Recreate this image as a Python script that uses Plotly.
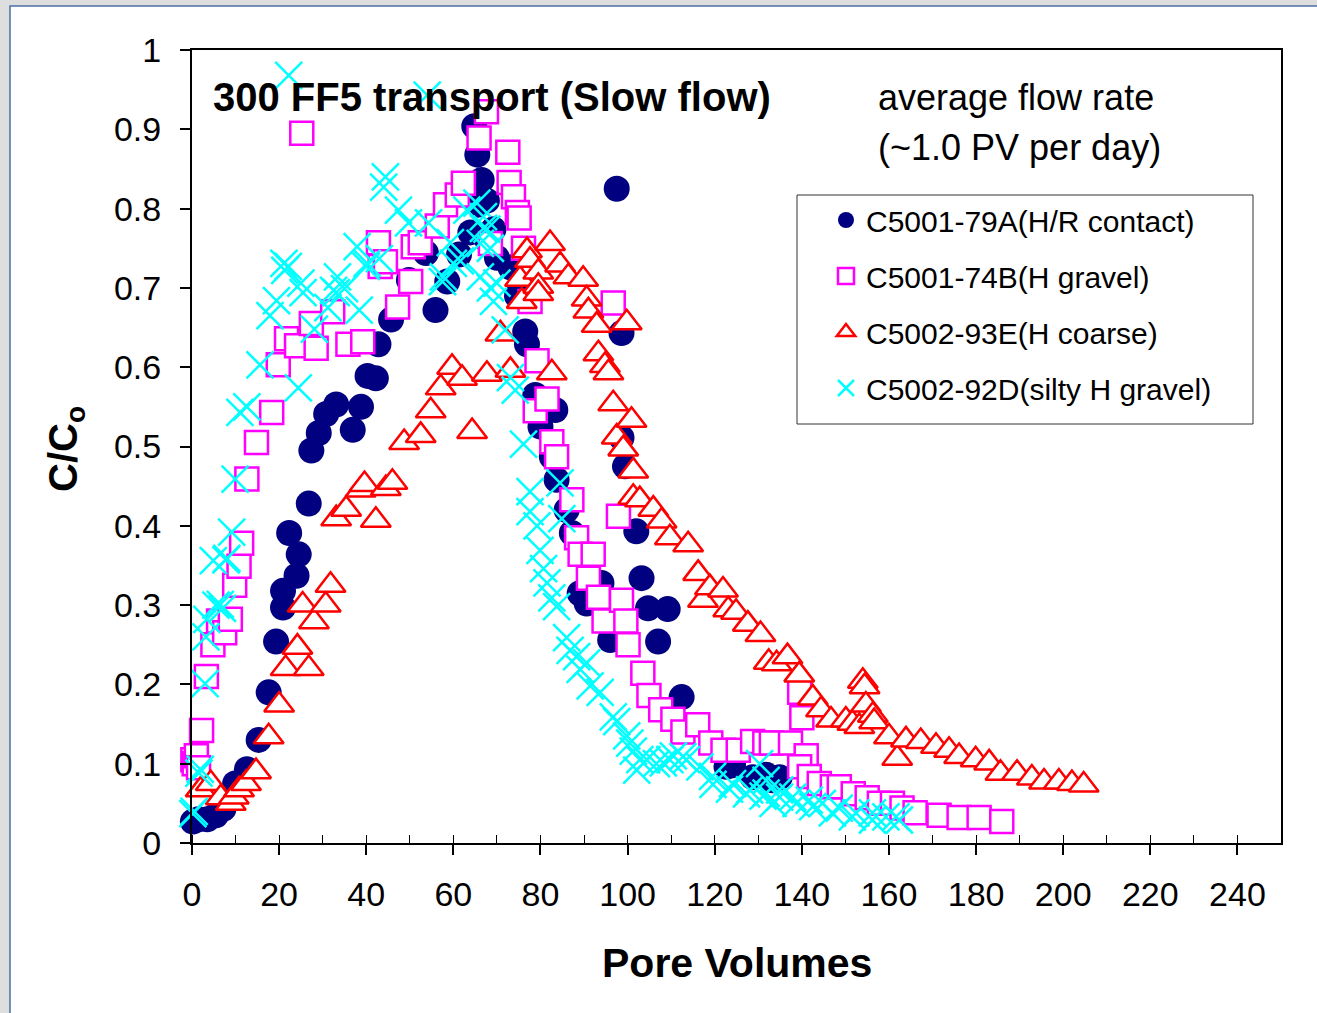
import plotly.graph_objects as go

# ---------------- data ----------------
names = ["C5001-79A(H/R contact)", "C5001-74B(H gravel)",
         "C5002-93E(H coarse)", "C5002-92D(silty H gravel)"]

a_x = [0.2, 1.5, 3.5, 5.5, 7.2, 8.5, 9.9, 12.6, 15.3, 17.6, 19.3, 20.9, 20.9, 22.3, 24.0, 24.5,
       26.8, 27.4, 29.1, 30.8, 33.1, 36.9, 38.8, 40.3, 42.2, 42.8, 45.7, 49.8, 53.7, 55.9, 58.6,
       61.3, 63.9, 64.8, 65.5, 65.7, 66.5, 67.7, 67.8, 69.2, 70.0, 73.1, 74.6, 76.5, 76.9, 78.8,
       80.0, 80.6, 82.6, 83.4, 83.7, 86.0, 87.2, 89.0, 90.6, 94.0, 96.0, 97.5, 98.6, 98.6, 99.4,
       102.0, 103.2, 104.7, 107.0, 109.2, 112.4, 122.7, 124.2, 128.7, 131.8, 133.3, 134.9]
a_y = [0.027, 0.030, 0.030, 0.035, 0.043, 0.058, 0.075, 0.093, 0.130, 0.190, 0.254, 0.297, 0.318,
       0.391, 0.337, 0.364, 0.428, 0.495, 0.517, 0.541, 0.553, 0.521, 0.550, 0.589, 0.586, 0.629,
       0.660, 0.710, 0.744, 0.672, 0.708, 0.742, 0.770, 0.904, 0.868, 0.805, 0.836, 0.810, 0.760,
       0.774, 0.738, 0.726, 0.690, 0.645, 0.629, 0.565, 0.525, 0.559, 0.487, 0.546, 0.458, 0.420,
       0.391, 0.315, 0.302, 0.328, 0.256, 0.825, 0.643, 0.511, 0.475, 0.393, 0.334, 0.296, 0.254,
       0.295, 0.184, 0.096, 0.098, 0.083, 0.086, 0.079, 0.083]

b_x = [0.2, 0.5, 1.0, 1.5, 2.2, 3.3, 4.8, 6.1, 7.5, 8.8, 9.8, 10.8, 11.4, 12.6, 14.8, 18.3, 19.8,
       21.7, 24.0, 25.2, 27.4, 28.5, 32.3, 35.8, 39.2, 42.8, 43.2, 44.4, 47.2, 50.2, 50.8, 52.4,
       56.3, 58.2, 60.9, 62.3, 65.9, 67.6, 68.5, 72.5, 72.8, 73.8, 74.7, 75.1, 76.1, 77.6, 78.8,
       79.2, 81.5, 82.6, 83.7, 87.2, 88.3, 89.1, 91.0, 92.1, 93.3, 94.6, 96.7, 97.9, 98.6, 99.6,
       100.1, 103.5, 104.9, 107.6, 110.4, 112.7, 116.1, 119.1, 121.9, 125.4, 128.7, 131.5, 133.0,
       137.4, 139.5, 140.0, 141.0, 139.5, 141.7, 144.0, 147.0, 148.6, 151.8, 155.0, 157.8, 160.8,
       163.0, 166.0, 171.5, 176.1, 180.7, 185.9]
b_y = [0.105, 0.100, 0.110, 0.095, 0.142, 0.210, 0.250, 0.280, 0.265, 0.282, 0.325, 0.349, 0.378,
       0.459, 0.505, 0.543, 0.603, 0.636, 0.627, 0.895, 0.655, 0.624, 0.670, 0.629, 0.632, 0.757,
       0.727, 0.733, 0.676, 0.708, 0.752, 0.757, 0.778, 0.805, 0.817, 0.832, 0.889, 0.922, 0.756,
       0.871, 0.833, 0.815, 0.795, 0.788, 0.750, 0.683, 0.545, 0.608, 0.560, 0.506, 0.487, 0.433,
       0.385, 0.364, 0.334, 0.364, 0.310, 0.280, 0.681, 0.412, 0.306, 0.280, 0.250, 0.214, 0.186,
       0.168, 0.156, 0.140, 0.149, 0.126, 0.117, 0.117, 0.128, 0.126, 0.126, 0.126, 0.190, 0.158,
       0.110, 0.096, 0.084, 0.075, 0.071, 0.071, 0.062, 0.057, 0.050, 0.050, 0.044, 0.038, 0.035,
       0.032, 0.032, 0.027]

c_x = [-0.2, 2.0, 4.3, 6.6, 8.9, 9.6, 10.8, 12.4, 14.7, 17.6, 20.0, 21.5, 24.2, 25.4, 26.8, 28.0,
       30.7, 31.8, 33.1, 35.4, 38.7, 39.6, 42.2, 44.5, 46.0, 48.7, 52.5, 54.8, 57.1, 59.7, 62.0,
       64.3, 67.7, 70.8, 73.1, 75.3, 75.7, 76.9, 77.6, 79.5, 79.5, 79.5, 82.2, 82.6, 84.5, 86.4,
       89.8, 90.6, 91.0, 92.9, 93.3, 94.8, 95.6, 96.7, 97.5, 99.0, 99.8, 100.9, 101.3, 101.3, 102.8,
       105.9, 107.8, 109.7, 113.9, 116.2, 117.3, 118.9, 121.9, 123.1, 124.9, 127.6, 130.5, 132.4,
       134.2, 136.7, 139.4, 142.5, 144.4, 146.7, 150.1, 151.6, 153.2, 154.0, 154.4, 154.7, 156.3,
       156.6, 160.0, 161.9, 163.9, 167.3, 170.8, 173.8, 176.1, 179.9, 183.0, 185.6, 189.4, 192.8,
       195.6, 199.0, 202.0, 204.7]
c_y = [0.069, 0.067, 0.075, 0.057, 0.050, 0.058, 0.067, 0.075, 0.090, 0.134, 0.174, 0.220, 0.247,
       0.300, 0.220, 0.279, 0.300, 0.325, 0.409, 0.421, 0.445, 0.452, 0.407, 0.447, 0.455, 0.505,
       0.514, 0.545, 0.574, 0.600, 0.586, 0.519, 0.591, 0.642, 0.596, 0.711, 0.683, 0.747, 0.735,
       0.720, 0.702, 0.693, 0.756, 0.593, 0.729, 0.714, 0.711, 0.686, 0.671, 0.653, 0.617, 0.602,
       0.593, 0.554, 0.512, 0.497, 0.656, 0.533, 0.469, 0.436, 0.433, 0.421, 0.406, 0.385, 0.376,
       0.340, 0.306, 0.322, 0.319, 0.294, 0.291, 0.276, 0.263, 0.228, 0.226, 0.235, 0.212, 0.183,
       0.168, 0.155, 0.155, 0.151, 0.147, 0.204, 0.197, 0.174, 0.161, 0.153, 0.134, 0.107, 0.130,
       0.128, 0.122, 0.117, 0.109, 0.105, 0.101, 0.088, 0.088, 0.082, 0.077, 0.077, 0.075, 0.073]

d_x = [0.2, 0.5, 1.6, 1.9, 3.0, 3.2, 3.4, 4.9, 5.5, 6.5, 7.0, 7.8, 8.0, 9.1, 9.9, 11.0, 12.6, 15.6,
       17.9, 19.4, 21.1, 21.3, 22.1, 22.2, 24.4, 25.0, 25.5, 28.1, 31.2, 32.5, 33.1, 33.4, 35.0,
       37.9, 38.4, 40.0, 40.2, 43.0, 44.0, 44.4, 47.4, 49.7, 54.0, 54.3, 57.5, 57.7, 59.3, 60.0,
       61.6, 63.1, 65.4, 66.2, 66.2, 66.9, 66.9, 67.7, 68.5, 68.5, 69.2, 70.0, 71.9, 73.1, 74.2,
       76.1, 77.6, 77.6, 79.2, 79.9, 80.7, 81.5, 82.6, 83.7, 84.5, 84.9, 86.0, 86.8, 88.3, 89.1,
       90.6, 91.4, 93.7, 96.7, 97.5, 99.8, 100.5, 101.3, 102.1, 102.8, 104.4, 106.6, 108.2, 109.7,
       110.5, 112.7, 113.5, 116.6, 119.5, 119.6, 123.4, 124.1, 127.3, 128.0, 130.3, 131.1, 131.8,
       131.8, 133.4, 134.9, 134.9, 137.9, 138.7, 141.7, 142.5, 144.7, 147.0, 148.6, 151.6, 152.4,
       156.2, 156.2, 159.3, 161.6, 162.4]
d_y = [0.037, 0.040, 0.088, 0.093, 0.201, 0.260, 0.282, 0.356, 0.300, 0.301, 0.296, 0.357, 0.359,
       0.392, 0.459, 0.543, 0.550, 0.603, 0.665, 0.684, 0.731, 0.722, 0.727, 0.968, 0.574, 0.706,
       0.694, 0.648, 0.675, 0.697, 0.694, 0.714, 0.699, 0.752, 0.672, 0.727, 0.731, 0.737, 0.827,
       0.840, 0.798, 0.782, 0.943, 0.782, 0.708, 0.714, 0.757, 0.731, 0.734, 0.798, 0.807, 0.756,
       0.714, 0.790, 0.775, 0.774, 0.750, 0.700, 0.683, 0.706, 0.647, 0.587, 0.571, 0.503, 0.443,
       0.418, 0.400, 0.369, 0.346, 0.328, 0.309, 0.298, 0.454, 0.409, 0.259, 0.243, 0.235, 0.219,
       0.227, 0.198, 0.190, 0.159, 0.153, 0.135, 0.126, 0.116, 0.092, 0.105, 0.105, 0.100, 0.101,
       0.105, 0.110, 0.109, 0.105, 0.096, 0.084, 0.074, 0.068, 0.075, 0.062, 0.067, 0.100, 0.059,
       0.079, 0.063, 0.050, 0.067, 0.058, 0.058, 0.050, 0.054, 0.046, 0.050, 0.038, 0.044, 0.033,
       0.038, 0.038, 0.029, 0.033, 0.033, 0.029]

x_ticks = list(range(0, 241, 20))
y_ticks = [0, 0.1, 0.2, 0.3, 0.4, 0.5, 0.6, 0.7, 0.8, 0.9, 1]

# ---------------- figure ----------------
FONT = "Liberation Sans, Arial, sans-serif"
W, H = 1317, 1013
L, R, T, B = 192, 36, 50, 170
PW, PH = W - L - R, H - T - B


def px(xp):  # pixel -> paper x
    return (xp - L) / PW


def py(yp):  # pixel -> paper y
    return (H - B - yp) / PH


fig = go.Figure()

styles = [
    dict(symbol="circle", size=26, color="#000080", line=dict(width=0)),
    dict(symbol="square", size=23, color="white", line=dict(color="#FF00FF", width=2.5)),
    dict(symbol="triangle-up", size=26, color="white", line=dict(color="#FF0000", width=2.5)),
    dict(symbol="x-thin-open", size=27, color="#00FFFF", line=dict(color="#00FFFF", width=2.5)),
]
series = [(a_x, a_y), (b_x, b_y), (c_x, c_y), (d_x, d_y)]
for i, ((xs, ys), st, nm) in enumerate(zip(series, styles, names)):
    assert len(xs) == len(ys)
    fig.add_trace(go.Scatter(x=xs, y=ys, mode="markers", name=nm, marker=st,
                             cliponaxis=False, legendgroup=f"g{i}"))

axis_common = dict(showline=True, linecolor="black", linewidth=2, mirror=True,
                   showgrid=False, zeroline=False, ticks="outside", ticklen=10,
                   tickwidth=1.5, tickcolor="black",
                   tickfont=dict(family=FONT, size=34, color="black"))

fig.update_xaxes(range=[0, 250], tickvals=x_ticks, ticktext=[str(v) for v in x_ticks],
                 ticklabelstandoff=10,
                 minor=dict(dtick=10, tick0=0, ticks="inside", ticklen=8,
                            tickcolor="black", tickwidth=1.2),
                 **axis_common)
fig.update_yaxes(range=[0, 1], tickvals=y_ticks, ticktext=[f"{v:g}" for v in y_ticks],
                 ticklabelstandoff=12, **axis_common)

shapes = [
    # outer chart frame
    dict(type="rect", xref="paper", yref="paper", x0=px(10), x1=px(1335), y0=py(1040), y1=py(6),
         fillcolor="white", line=dict(color="#4a70a8", width=1.5), layer="below"),
    # legend box
    dict(type="rect", xref="paper", yref="paper", x0=px(797), x1=px(1253), y0=py(424), y1=py(195),
         fillcolor="white", line=dict(color="#333333", width=1), layer="below"),
]

annotations = [
    dict(text="<b>300 FF5 transport (Slow flow)</b>", x=px(211), y=py(97), xanchor="left",
         yanchor="middle", showarrow=False, font=dict(family=FONT, size=40, color="black")),
    dict(text="average flow rate", x=px(876), y=py(97), xanchor="left", yanchor="middle",
         showarrow=False, font=dict(family=FONT, size=36, color="black")),
    dict(text="(~1.0 PV per day)", x=px(876), y=py(147), xanchor="left", yanchor="middle",
         showarrow=False, font=dict(family=FONT, size=36, color="black")),
    dict(text="<b>Pore Volumes</b>", x=0.5, y=py(963), xanchor="center", yanchor="middle",
         showarrow=False, font=dict(family=FONT, size=41, color="black")),
    dict(text="<b>C/C<sub>o</sub></b>", x=px(66), y=py(449), xanchor="center", yanchor="middle",
         textangle=-90, showarrow=False, font=dict(family=FONT, size=40, color="black")),
]
for an in annotations:
    an.update(xref="paper", yref="paper")

fig.update_layout(
    width=W, height=H,
    margin=dict(l=L, r=R, t=T, b=B, pad=0),
    paper_bgcolor="#dedede", plot_bgcolor="rgba(0,0,0,0)",
    shapes=shapes, annotations=annotations,
    showlegend=True,
    legend=dict(x=px(799), y=py(194), xanchor="left", yanchor="top",
                bgcolor="rgba(0,0,0,0)", borderwidth=0, tracegroupgap=14,
                indentation=27, font=dict(family=FONT, size=30, color="black"),
                itemsizing="trace"),
    font=dict(family=FONT, color="black"),
)

fig.write_html("out.html")
